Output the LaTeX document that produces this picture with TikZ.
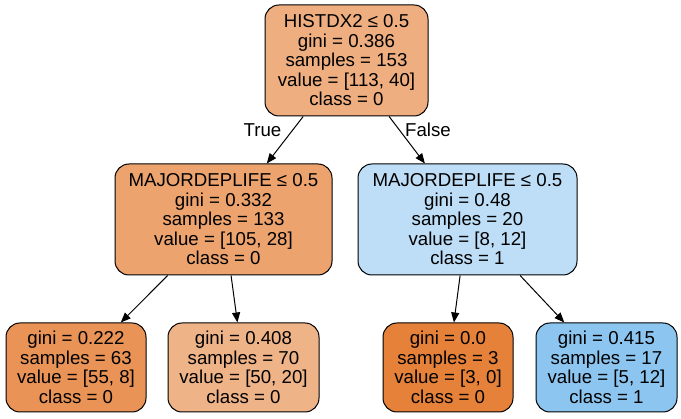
\documentclass[tikz,border=0pt]{standalone}
\usepackage{fontspec}
\setmainfont{Liberation Sans}
\usetikzlibrary{arrows.meta}
\definecolor{cRoot}{RGB}{238,174,127}
\definecolor{cLM}{RGB}{236,163,110}
\definecolor{cRM}{RGB}{189,222,246}
\definecolor{cLA}{RGB}{233,147,86}
\definecolor{cLB}{RGB}{239,179,136}
\definecolor{cLC}{RGB}{229,129,57}
\definecolor{cLD}{RGB}{140,198,240}
\tikzset{
  treenode/.style={draw=black, line width=1pt, rounded corners=14pt, inner sep=0pt,
    align=center, font=\fontsize{18.67}{19.5}\selectfont},
  edge/.style={line width=1pt, -{Triangle[length=10pt,width=8pt]}},
  elabel/.style={font=\fontsize{18.67}{19.5}\selectfont}
}
\begin{document}
\begin{tikzpicture}[x=1pt,y=-1pt]
\useasboundingbox[fill=white] (0,0) rectangle (681,419);
\node[treenode, fill=cRoot, minimum width=163pt, minimum height=111pt] (root) at (346.5,60.5)
  {HISTDX2 ≤ 0.5\\gini = 0.386\\samples = 153\\value = [113, 40]\\class = 0};
\node[treenode, fill=cLM, minimum width=217pt, minimum height=111pt] (lm) at (223.5,219.5)
  {MAJORDEPLIFE ≤ 0.5\\gini = 0.332\\samples = 133\\value = [105, 28]\\class = 0};
\node[treenode, fill=cRM, minimum width=219pt, minimum height=111pt] (rm) at (467.5,219.5)
  {MAJORDEPLIFE ≤ 0.5\\gini = 0.48\\samples = 20\\value = [8, 12]\\class = 1};
\node[treenode, fill=cLA, minimum width=140pt, minimum height=89pt] (la) at (76,367.5)
  {gini = 0.222\\samples = 63\\value = [55, 8]\\class = 0};
\node[treenode, fill=cLB, minimum width=151pt, minimum height=89pt] (lb) at (243.5,367.5)
  {gini = 0.408\\samples = 70\\value = [50, 20]\\class = 0};
\node[treenode, fill=cLC, minimum width=130pt, minimum height=89pt] (lc) at (448,367.5)
  {gini = 0.0\\samples = 3\\value = [3, 0]\\class = 0};
\node[treenode, fill=cLD, minimum width=141pt, minimum height=89pt] (ld) at (606.5,367.5)
  {gini = 0.415\\samples = 17\\value = [5, 12]\\class = 1};
\draw[edge] (root) -- (lm);
\draw[edge] (root) -- (rm);
\draw[edge] (lm) -- (la);
\draw[edge] (lm) -- (lb);
\draw[edge] (rm) -- (lc);
\draw[edge] (rm) -- (ld);
\node[elabel] (tl) at (262.5,130) {True};
\node[elabel] (fl) at (428,130) {False};
\end{tikzpicture}
\end{document}
